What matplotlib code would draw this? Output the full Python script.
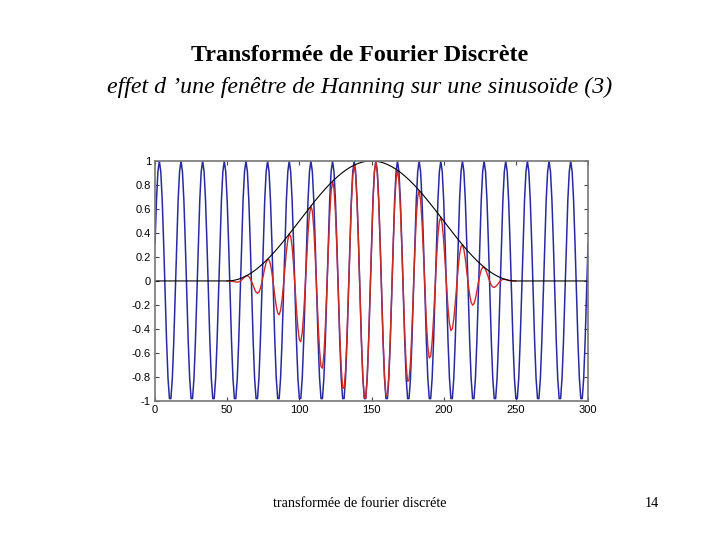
import numpy as np
import matplotlib.pyplot as plt

# Transformée de Fourier discrète : sinusoïde, fenêtre de Hanning et produit

# une période de la sinusoïde (15 échantillons)
periode = [0.31, 0.67, 0.91, 1.0, 0.91, 0.67, 0.31, -0.10,
           -0.50, -0.81, -0.98, -0.98, -0.81, -0.50, -0.10]
nb_periodes = 21
n_max = 300

# fenêtre de Hanning entre ces deux indices
debut_fenetre = 50
fin_fenetre = 250

x_ticks = [0, 50, 100, 150, 200, 250, 300]
y_ticks = [1, 0.8, 0.6, 0.4, 0.2, 0, -0.2, -0.4, -0.6, -0.8, -1]
y_labels = ['1', '0.8', '0.6', '0.4', '0.2', '0', '-0.2', '-0.4', '-0.6', '-0.8', '-1']

n = np.arange(n_max + 1)
sinus = np.tile(periode, nb_periodes)[:n_max + 1]
fenetre = np.zeros(n_max + 1)
fenetre[debut_fenetre:fin_fenetre + 1] = np.hanning(fin_fenetre - debut_fenetre + 1)
produit = sinus * fenetre

fig = plt.figure(figsize=(7.2, 5.4), dpi=100)
ax = fig.add_axes([0.2153, 0.2574, 0.6014, 0.4446])

zone = slice(debut_fenetre, fin_fenetre + 1)
ax.plot(n, sinus, color='#2a2aa0', lw=1.1)
ax.plot(n[zone], produit[zone], color='#cc2a2a', lw=1.0)
ax.plot(n, fenetre, color='black', lw=0.8)

ax.set_xlim(0, 300)
ax.set_ylim(-1, 1)
ax.set_xticks(x_ticks)
ax.set_yticks(y_ticks)
ax.set_yticklabels(y_labels)
ax.tick_params(direction='in', length=3, labelsize=8, top=True, right=True,
               colors='#444444', labelcolor='black', pad=3)
for lab in ax.get_xticklabels() + ax.get_yticklabels():
    lab.set_family('Liberation Sans')
for s in ax.spines.values():
    s.set_color('#777777')
    s.set_linewidth(1.2)

fig.text(0.5, 0.898, 'Transformée de Fourier Discrète', ha='center', va='center',
         family='Liberation Serif', fontweight='bold', fontsize=17.3)
fig.text(0.5, 0.839, 'effet d \u2019une fenêtre de Hanning sur une sinusoïde (3)',
         ha='center', va='center', family='Liberation Serif', style='italic', fontsize=17.2)
fig.text(0.5, 0.067, 'transformée de fourier discréte', ha='center', va='center',
         family='Liberation Serif', fontsize=10.2)
fig.text(0.905, 0.067, '14', ha='center', va='center',
         family='Liberation Serif', fontsize=10.2)

fig.savefig('out.png', dpi=100)
